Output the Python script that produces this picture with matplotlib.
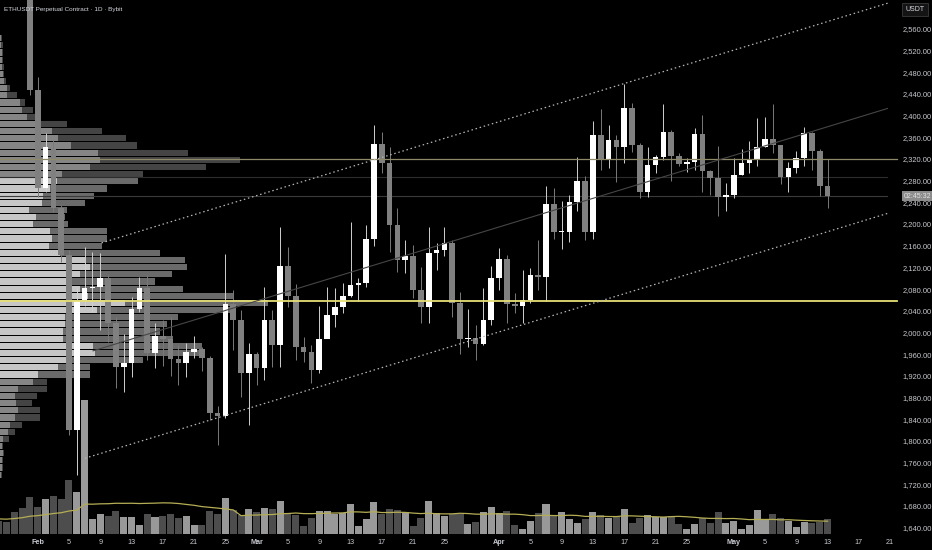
import matplotlib
matplotlib.use("Agg")
import matplotlib.pyplot as plt
import matplotlib.transforms as mtransforms
import numpy as np
import pandas as pd

# ---------------- data ----------------
dates = pd.date_range("2023-01-28", "2023-05-13", freq="D")

opens = [2905, 2860, 2800, 2720, 2449, 2268, 2340, 2231, 2145, 1822,
         2062, 2084, 2085, 2102, 2019, 1938, 1945, 2045, 2084, 1964,
         1995, 1990, 1953, 1946, 1966, 1971, 1954, 1853, 1848, 2055,
         2025, 1927, 1962, 1936, 2025, 1979, 2124, 2069, 1975, 1966,
         1933, 1990, 2034, 2049, 2070, 2089, 2093, 2175, 2349, 2314,
         2200, 2135, 2143, 2081, 2049, 2148, 2153, 2166, 2057, 1989,
         1991, 1981, 2024, 2102, 2137, 2054, 2051, 2062, 2107, 2105,
         2238, 2187, 2187, 2242, 2282, 2187, 2366, 2320, 2357, 2344,
         2415, 2348, 2260, 2311, 2325, 2371, 2327, 2312, 2317, 2368,
         2300, 2286, 2251, 2255, 2293, 2314, 2321, 2344, 2358, 2348,
         2288, 2305, 2323, 2369, 2337, 2272]
highs = [2930, 2880, 2815, 2745, 2473, 2369, 2356, 2237, 2154, 2086,
         2159, 2151, 2148, 2108, 2030, 1999, 2068, 2105, 2108, 2019,
         2025, 2031, 1979, 1982, 1995, 1975, 1958, 1866, 2147, 2080,
         2043, 1982, 1966, 2086, 2043, 2197, 2160, 2091, 1994, 1979,
         2051, 2086, 2084, 2093, 2206, 2102, 2200, 2384, 2372, 2344,
         2231, 2172, 2163, 2123, 2197, 2166, 2197, 2172, 2077, 2046,
         2016, 2083, 2124, 2157, 2145, 2074, 2117, 2121, 2172, 2272,
         2268, 2245, 2255, 2326, 2290, 2392, 2413, 2384, 2366, 2460,
         2424, 2351, 2343, 2329, 2423, 2375, 2333, 2323, 2378, 2403,
         2301, 2346, 2277, 2323, 2341, 2354, 2397, 2400, 2423, 2348,
         2317, 2337, 2381, 2372, 2340, 2321]
lows = [2850, 2780, 2700, 2440, 2251, 2260, 2224, 2132, 1813, 1739,
        2050, 2040, 2006, 1985, 1900, 1893, 1920, 2040, 1951, 1936,
        1940, 1922, 1905, 1920, 1954, 1930, 1840, 1794, 1844, 1970,
        1883, 1831, 1905, 1914, 1938, 1939, 2049, 1951, 1948, 1909,
        1927, 2003, 2012, 2038, 2068, 2059, 2086, 2161, 2295, 2151,
        2114, 2111, 2065, 2020, 2020, 2117, 2143, 2030, 1963, 1975,
        1951, 1979, 2015, 2080, 2020, 2037, 2019, 2056, 2080, 2059,
        2175, 2155, 2169, 2225, 2172, 2175, 2301, 2305, 2280, 2314,
        2335, 2249, 2252, 2295, 2320, 2282, 2308, 2298, 2301, 2261,
        2255, 2217, 2226, 2249, 2292, 2295, 2308, 2343, 2333, 2276,
        2261, 2295, 2309, 2301, 2253, 2231]
closes = [2860, 2800, 2720, 2449, 2268, 2344, 2231, 2145, 1822, 2060,
          2084, 2086, 2102, 2019, 1938, 1945, 2045, 2084, 1964, 1995,
          1990, 1953, 1946, 1966, 1971, 1954, 1853, 1848, 2055, 2025,
          1927, 1962, 1936, 2025, 1979, 2124, 2069, 1975, 1966, 1933,
          1990, 2034, 2049, 2070, 2089, 2093, 2175, 2349, 2314, 2200,
          2135, 2143, 2081, 2049, 2148, 2153, 2166, 2057, 1989, 1992,
          1981, 2024, 2102, 2137, 2054, 2051, 2062, 2107, 2105, 2238,
          2187, 2188, 2242, 2282, 2187, 2366, 2320, 2357, 2344, 2415,
          2348, 2260, 2311, 2325, 2371, 2327, 2312, 2317, 2368, 2300,
          2286, 2251, 2255, 2293, 2314, 2321, 2344, 2358, 2348, 2288,
          2305, 2323, 2369, 2337, 2272, 2253]
volumes = [12.3, 22.3, 26.3, 36.7, 26.7, 34.7, 38.3, 34.7, 54, 42.3,
           134, 15, 20, 18.3, 23, 16.7, 16.7, 8.7, 19.7, 16.7,
           18.3, 19.7, 15.7, 18.3, 9, 9, 23.3, 19.7, 36.3, 24,
           19, 25, 21.7, 26.3, 25, 33.3, 20.7, 19, 8, 15.7,
           23.3, 23.3, 19.7, 20.7, 29.7, 8, 15, 31.7, 20, 25,
           24, 21.7, 8, 16.3, 33.3, 21.3, 18.3, 20, 19.7, 9.7,
           11.7, 22.3, 26.7, 20.7, 22.7, 9, 5, 13, 20.7, 29.7,
           19, 21.7, 15, 10.7, 15, 22.3, 19, 16.3, 18.3, 24.7,
           10.7, 15.7, 19, 17.3, 16.7, 18, 10, 4.7, 9.7, 15.7,
           11.3, 21.7, 11.3, 13, 5, 9, 24, 14.7, 20, 15.7,
           13, 7.3, 12, 11.3, 12.3, 14.7]
# ten sessions before the window (only feed the volume moving average)
volumes_before = [15, 17, 13, 16, 14, 18, 15, 14, 16, 13]

# visible-range volume profile, rows listed from top (high price) to bottom
profile_up = [1, 1, 2, 2, 2, 3, 4, 7, 7, 20, 22, 27, 36, 52, 58, 71, 98, 100, 90, 62,
              57, 50, 43, 42, 29, 36, 33, 50, 52, 49, 60, 85, 90, 80, 72, 80, 88, 125, 97, 65,
              65, 63, 63, 93, 95, 67, 58, 38, 33, 18, 15, 16, 18, 15, 10, 8, 3, 2, 3, 2, 2, 1]
profile_total = [2, 3, 3, 3, 4, 4, 6, 10, 17, 25, 33, 35, 67, 102, 126, 137, 188, 240, 206, 143,
                 138, 107, 94, 85, 67, 65, 68, 107, 107, 102, 160, 185, 187, 172, 155, 183, 233, 268, 230, 178,
                 167, 160, 173, 202, 202, 143, 90, 90, 47, 47, 37, 32, 40, 40, 22, 15, 9, 3, 4, 3, 3, 2]
profile_down = [t - u for t, u in zip(profile_total, profile_up)]
profile_low, profile_high = 1734, 2552
value_area_rows = (20, 47)   # first and last row inside value area

price_ticks = list(range(1640, 2561, 40))
date_ticks = [("2023-02-01", "Feb"), ("2023-02-05", "5"), ("2023-02-09", "9"), ("2023-02-13", "13"),
              ("2023-02-17", "17"), ("2023-02-21", "21"), ("2023-02-25", "25"), ("2023-03-01", "Mar"),
              ("2023-03-05", "5"), ("2023-03-09", "9"), ("2023-03-13", "13"), ("2023-03-17", "17"),
              ("2023-03-21", "21"), ("2023-03-25", "25"), ("2023-04-01", "Apr"), ("2023-04-05", "5"),
              ("2023-04-09", "9"), ("2023-04-13", "13"), ("2023-04-17", "17"), ("2023-04-21", "21"),
              ("2023-04-25", "25"), ("2023-05-01", "May"), ("2023-05-05", "5"), ("2023-05-09", "9"),
              ("2023-05-13", "13"), ("2023-05-17", "17"), ("2023-05-21", "21")]

# drawings: (date, price) anchors
channel_upper = [("2023-02-09 04:00", 2167), ("2023-05-20 17:00", 2609)]
channel_mid = [("2023-02-08 02:00", 1968), ("2023-05-20 17:00", 2415)]
channel_lower = [("2023-02-07 01:00", 1770), ("2023-05-20 17:00", 2221.5)]
level_khaki = 2321
level_poc = 2059
level_vah = 2288
last_price = 2253

# ---------------- figure ----------------
W, H = 932, 550
fig = plt.figure(figsize=(W / 100, H / 100), dpi=100, facecolor="black")
pos = [0, 16 / H, 888 / W, 534 / H]
ax_p = fig.add_axes(pos)
ax_v = fig.add_axes(pos)
ax = fig.add_axes(pos)
for a in (ax_p, ax_v, ax):
    a.set_facecolor("none")
    a.axis("off")

origin = pd.Timestamp("2023-02-01")
x = np.array([(d - origin).days for d in dates], dtype=float)
XMIN, XMAX = -4.82, 108.73
YMIN, YMAX = 1630.3, 2614.8
ax.set_xlim(XMIN, XMAX)
ax.set_ylim(YMIN, YMAX)
ax_p.set_xlim(0, 888)
ax_p.set_ylim(YMIN, YMAX)
ax_v.set_xlim(XMIN, XMAX)
ax_v.set_ylim(0, 534)

def dx(s):
    return (pd.Timestamp(s) - origin) / pd.Timedelta(days=1)

# volume profile
n = len(profile_up)
step = (profile_high - profile_low) / n
for i in range(n):
    bottom = profile_high - (i + 1) * step
    in_va = value_area_rows[0] <= i <= value_area_rows[1]
    cu = "#c6c6c6" if in_va else "#858585"
    cd = "#6a6a6a" if in_va else "#444444"
    ax_p.barh(bottom, profile_up[i], height=step * 0.86, left=0, align="edge", color=cu, lw=0)
    ax_p.barh(bottom, profile_down[i], height=step * 0.86, left=profile_up[i], align="edge", color=cd, lw=0)

# volume bars + MA
opens_a, closes_a = np.array(opens, float), np.array(closes, float)
up = closes_a >= opens_a
vcol = np.where(up, "#999999", "#4d4d4d")
ax_v.bar(x, volumes, width=0.9, color=vcol, lw=0)
xb = np.arange(x[0] - len(volumes_before), x[0])
ax_v.bar(xb, volumes_before, width=0.9, color="#4d4d4d", lw=0)
ma = pd.Series(volumes_before + volumes).rolling(20, min_periods=1).mean()
ax_v.plot(np.concatenate([xb, x]), ma.values, color="#b5ae55", lw=0.9)

# candles
ccol = np.where(up, "#ffffff", "#808080")
wcol = np.where(up, "#d0d0d0", "#7a7a7a")
ax.vlines(x, lows, highs, colors=wcol, lw=0.7, zorder=2)
body = np.maximum(np.abs(closes_a - opens_a), 2.5)
ax.bar(x, body, bottom=np.minimum(opens_a, closes_a), width=0.72, color=ccol, lw=0, zorder=3)

# horizontal levels
xr = XMAX + 1.2
ax.plot([XMIN, xr], [level_khaki] * 2, color="#8d8a68", lw=0.9, clip_on=False, zorder=4)
ax.plot([XMIN, XMAX], [level_vah] * 2, color="#2c2c2c", lw=0.8, zorder=1)
ax.plot([XMIN, XMAX], [last_price] * 2, color="#3a3a3a", lw=0.8, zorder=1)
ax.plot([XMIN, xr], [level_poc] * 2, color="#e6df78", lw=1.3, clip_on=False, zorder=4)

# channel
for line, style in ((channel_upper, "dot"), (channel_lower, "dot"), (channel_mid, "solid")):
    xs = [dx(p[0]) for p in line]
    ys = [p[1] for p in line]
    if style == "dot":
        ax.plot(xs, ys, color="#b8b8b8", lw=0.9, ls=(0, (1.2, 2.2)), zorder=5)
    else:
        ax.plot(xs, ys, color="#464646", lw=0.8, zorder=5)

# price axis labels
font = "Liberation Sans"
tcol = "#c8cad0"
yt = mtransforms.blended_transform_factory(ax.transAxes, ax.transData)
for p in price_ticks:
    ax.text(902.5 / 888, p, f"{p:,.2f}", transform=yt,
            ha="left", va="center", fontsize=5.4, color=tcol, family=font, clip_on=False)

# date labels
bt = mtransforms.blended_transform_factory(ax.transData, ax.transAxes)
for d, lab in date_ticks:
    month = not lab.isdigit()
    ax.text(dx(d), -8.5 / 534, lab, transform=bt, ha="center", va="center", fontsize=5.2,
            color=tcol, family=font, fontweight="bold" if month else "normal", clip_on=False)

# title, currency box, countdown
fig.text(4 / W, 1 - 9.5 / H, "ETHUSDT Perpetual Contract · 1D · Bybit", fontsize=4.6, color="#d6d8de",
         family=font, ha="left", va="center")
fig.text(915 / W, 1 - 9.5 / H, "USDT", fontsize=5.0, color="#d6d8de", family=font, ha="center", va="center",
         bbox=dict(boxstyle="square,pad=0.45", fc="#141414", ec="#3a3a3a", lw=0.6))
ax.text(918 / 888, last_price, "02:45:32", transform=yt,
        ha="center", va="center", fontsize=5.0, color="#e2e2e2", family=font, clip_on=False,
        bbox=dict(boxstyle="square,pad=0.25", fc="#8c8c8c", ec="none"))

fig.savefig("out.png", dpi=100, facecolor="black")
